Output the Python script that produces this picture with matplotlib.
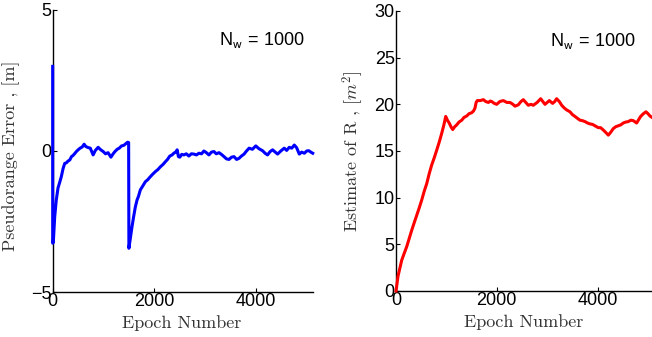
import numpy as np
import matplotlib
matplotlib.use('Agg')
import matplotlib.pyplot as plt

plt.rcParams['font.family'] = ['Liberation Sans', 'DejaVu Sans']
plt.rcParams['mathtext.fontset'] = 'cm'

# pseudorange error vs epoch (N_w = 1000)
err_epoch = [0, 0, 12, 40, 70, 105, 140, 170, 205, 237, 270, 300, 336, 370, 400, 430, 466,
             500, 540, 580, 619, 650, 698, 740, 796, 840, 895, 940, 994, 1040, 1090, 1146,
             1190, 1225, 1270, 1310, 1356, 1400, 1440, 1474, 1495, 1500, 1528, 1560, 1593,
             1625, 1660, 1690, 1725, 1770, 1824, 1870, 1923, 1970, 2022, 2070, 2120, 2170,
             2219, 2260, 2305, 2350, 2384, 2420, 2450, 2475, 2502, 2540, 2581, 2630, 2680,
             2730, 2779, 2830, 2878, 2930, 2976, 3025, 3075, 3125, 3174, 3220, 3273, 3320,
             3372, 3420, 3470, 3520, 3569, 3620, 3668, 3715, 3767, 3815, 3866, 3930, 3998,
             4060, 4130, 4180, 4229, 4280, 4328, 4380, 4427, 4490, 4557, 4605, 4656, 4705,
             4755, 4800, 4854, 4900, 4953, 5000, 5040, 5080, 5118]
err_value = [3.0, -3.27, -3.25, -2.33, -1.75, -1.31, -1.1, -0.91, -0.62, -0.44, -0.42, -0.36,
             -0.32, -0.2, -0.16, -0.1, -0.02, 0.04, 0.1, 0.14, 0.24, 0.16, 0.12, 0.1, -0.14,
             0.02, 0.13, 0.05, -0.02, -0.1, -0.06, -0.22, -0.1, -0.02, 0.06, 0.1, 0.18, 0.2,
             0.26, 0.31, 0.3, -3.45, -3.1, -2.7, -2.33, -2.0, -1.74, -1.6, -1.38, -1.25, -1.09,
             -1.02, -0.91, -0.82, -0.73, -0.66, -0.56, -0.48, -0.38, -0.3, -0.18, -0.14, -0.08,
             -0.04, 0.04, -0.2, -0.22, -0.12, -0.14, -0.1, -0.18, -0.1, -0.11, -0.14, -0.08,
             -0.1, 0.0, -0.06, -0.14, -0.04, -0.02, -0.1, -0.06, -0.12, -0.2, -0.28, -0.3,
             -0.22, -0.2, -0.3, -0.26, -0.18, -0.11, 0.0, 0.1, 0.06, 0.18, 0.08, 0.01, -0.08,
             -0.14, -0.02, 0.04, -0.04, -0.11, 0.0, 0.1, 0.02, 0.13, 0.1, 0.21, 0.12, -0.11,
             -0.04, -0.08, 0.0, 0.01, -0.04, -0.08]

# estimate of R vs epoch
r_epoch = [0, 40, 113, 160, 212, 260, 311, 360, 410, 460, 510, 560, 609, 660, 708, 760, 808,
           860, 907, 950, 986, 1020, 1058, 1090, 1125, 1165, 1204, 1250, 1304, 1350, 1403,
           1450, 1502, 1540, 1567, 1590, 1613, 1670, 1733, 1780, 1832, 1870, 1899, 1950, 1998,
           2060, 2129, 2200, 2262, 2320, 2361, 2427, 2480, 2526, 2575, 2625, 2680, 2724, 2800,
           2871, 2956, 3000, 3042, 3108, 3150, 3187, 3240, 3288, 3340, 3387, 3452, 3500, 3552,
           3600, 3651, 3700, 3750, 3800, 3849, 3900, 3948, 4014, 4060, 4113, 4160, 4213, 4260,
           4312, 4360, 4411, 4460, 4510, 4560, 4609, 4660, 4709, 4775, 4820, 4854, 4910, 4960,
           5000, 5040, 5080]
r_value = [0.0, 1.6, 3.3, 4.0, 4.75, 5.6, 6.5, 7.3, 8.1, 8.9, 9.75, 10.7, 11.5, 12.6, 13.5,
           14.3, 15.1, 16.0, 16.9, 17.8, 18.7, 18.3, 17.97, 17.6, 17.3, 17.6, 17.8, 18.1, 18.3,
           18.6, 18.75, 19.0, 19.1, 19.3, 19.6, 20.2, 20.4, 20.4, 20.5, 20.3, 20.2, 20.35, 20.3,
           20.1, 20.0, 20.3, 20.4, 20.2, 20.2, 20.0, 19.8, 19.95, 20.3, 20.5, 20.2, 19.9, 20.0,
           19.9, 20.2, 20.6, 20.0, 20.2, 20.4, 20.1, 20.3, 20.6, 20.3, 19.9, 19.6, 19.4, 19.2,
           18.9, 18.7, 18.5, 18.3, 18.25, 18.15, 18.0, 17.9, 17.85, 17.7, 17.5, 17.5, 17.25,
           17.0, 16.7, 17.0, 17.4, 17.6, 17.7, 17.8, 18.0, 18.1, 18.15, 18.3, 18.25, 18.0, 18.4,
           18.7, 19.0, 19.2, 19.0, 18.75, 18.6]

label_color = '#333333'
label_font = dict(family='cmr10', size=13, color=label_color)

fig = plt.figure(figsize=(6.52, 3.37), dpi=100)
ax1 = fig.add_axes([0.0808, 0.1335, 0.399, 0.837])
ax2 = fig.add_axes([0.6074, 0.1365, 0.3926, 0.8309])

ax1.plot(err_epoch, err_value, color='blue', linewidth=2.2, zorder=3, clip_on=False)
ax1.set_xlim(0, 5120)
ax1.set_ylim(-5, 5)
ax1.set_yticks([-5, 0, 5])
ax1.set_xticks([0, 2000, 4000])
ax1.text(3270, 3.9, r'N$_{\mathsf{w}}$ = 1000', fontsize=13, va='center')
ax1.set_ylabel('Pseudorange Error , [m]', **label_font)
ax1.set_xlabel('Epoch Number', **label_font)
ax1.yaxis.set_label_coords(-0.126, 0.482)
ax1.xaxis.set_label_coords(0.497, -0.082)

ax2.plot(r_epoch, r_value, color='red', linewidth=2.2, zorder=3, clip_on=False)
ax2.set_xlim(0, 5080)
ax2.set_ylim(0, 30)
ax2.set_yticks(range(0, 31, 5))
ax2.set_xticks([0, 2000, 4000])
ax2.text(3055, 26.7, r'N$_{\mathsf{w}}$ = 1000', fontsize=13, va='center')
ax2.set_ylabel(r'Estimate of R , $[m^2]$', **label_font)
ax2.set_xlabel('Epoch Number', **label_font)
ax2.yaxis.set_label_coords(-0.118, 0.50)
ax2.xaxis.set_label_coords(0.50, -0.082)

for ax in (ax1, ax2):
    ax.spines['top'].set_visible(False)
    ax.spines['right'].set_visible(False)
    ax.spines['left'].set_linewidth(1.0)
    ax.spines['bottom'].set_linewidth(1.0)
    ax.tick_params(direction='in', length=3, width=0.8, labelsize=13, pad=1)

fig.savefig('out.png', dpi=100)
